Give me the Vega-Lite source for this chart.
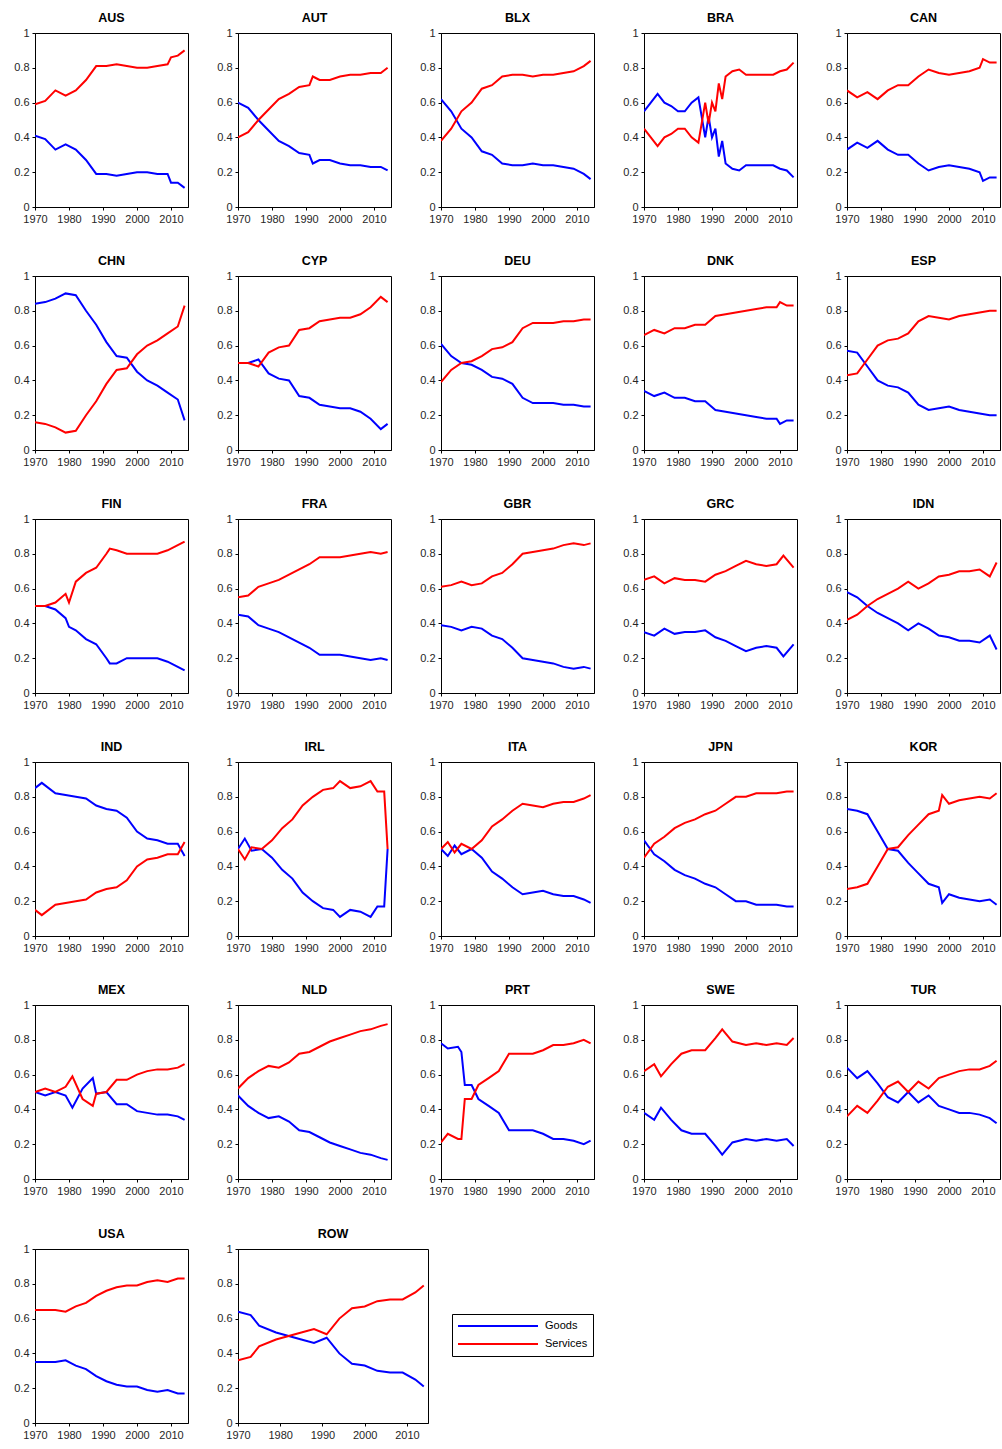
{
  "$schema": "https://vega.github.io/schema/vega-lite/v6.json",
  "background": "white",
  "padding": {"left": 13, "top": 11, "right": 0, "bottom": 4},
  "config": {
    "font": "Liberation Sans",
    "view": {"stroke": "black", "strokeWidth": 1},
    "axis": {"grid": false, "labelFontSize": 11, "labelColor": "#262626", "domainColor": "black", "tickColor": "black", "tickSize": 3, "title": null, "labelPadding": 3, "labelOverlap": false, "labelFlush": false},
    "header": {"title": null, "labelFontSize": 12.5, "labelFontWeight": "bold", "labelPadding": 3},
    "legend": {"title": null, "orient": "none", "legendX": 417, "legendY": 1281, "strokeColor": "black", "padding": 5, "symbolType": "stroke", "symbolSize": 6400, "symbolStrokeWidth": 2, "labelFontSize": 11, "labelOffset": 6, "rowPadding": 4, "clipHeight": 14}
  },
  "data": {"values": [
    {"c":"AUS","y":1970,"g":0.41,"s":0.59},{"c":"AUS","y":1973,"g":0.39,"s":0.61},{"c":"AUS","y":1976,"g":0.33,"s":0.67},{"c":"AUS","y":1979,"g":0.36,"s":0.64},{"c":"AUS","y":1982,"g":0.33,"s":0.67},{"c":"AUS","y":1985,"g":0.27,"s":0.73},{"c":"AUS","y":1988,"g":0.19,"s":0.81},{"c":"AUS","y":1991,"g":0.19,"s":0.81},{"c":"AUS","y":1994,"g":0.18,"s":0.82},{"c":"AUS","y":1997,"g":0.19,"s":0.81},{"c":"AUS","y":2000,"g":0.2,"s":0.8},{"c":"AUS","y":2003,"g":0.2,"s":0.8},{"c":"AUS","y":2006,"g":0.19,"s":0.81},{"c":"AUS","y":2009,"g":0.19,"s":0.82},{"c":"AUS","y":2010,"g":0.14,"s":0.86},{"c":"AUS","y":2012,"g":0.14,"s":0.87},{"c":"AUS","y":2014,"g":0.11,"s":0.9},
    {"c":"AUT","y":1970,"g":0.6,"s":0.4},{"c":"AUT","y":1973,"g":0.57,"s":0.43},{"c":"AUT","y":1976,"g":0.5,"s":0.5},{"c":"AUT","y":1979,"g":0.44,"s":0.56},{"c":"AUT","y":1982,"g":0.38,"s":0.62},{"c":"AUT","y":1985,"g":0.35,"s":0.65},{"c":"AUT","y":1988,"g":0.31,"s":0.69},{"c":"AUT","y":1991,"g":0.3,"s":0.7},{"c":"AUT","y":1992,"g":0.25,"s":0.75},{"c":"AUT","y":1994,"g":0.27,"s":0.73},{"c":"AUT","y":1997,"g":0.27,"s":0.73},{"c":"AUT","y":2000,"g":0.25,"s":0.75},{"c":"AUT","y":2003,"g":0.24,"s":0.76},{"c":"AUT","y":2006,"g":0.24,"s":0.76},{"c":"AUT","y":2009,"g":0.23,"s":0.77},{"c":"AUT","y":2012,"g":0.23,"s":0.77},{"c":"AUT","y":2014,"g":0.21,"s":0.8},
    {"c":"BLX","y":1970,"g":0.62,"s":0.38},{"c":"BLX","y":1973,"g":0.55,"s":0.45},{"c":"BLX","y":1976,"g":0.45,"s":0.55},{"c":"BLX","y":1979,"g":0.4,"s":0.6},{"c":"BLX","y":1982,"g":0.32,"s":0.68},{"c":"BLX","y":1985,"g":0.3,"s":0.7},{"c":"BLX","y":1988,"g":0.25,"s":0.75},{"c":"BLX","y":1991,"g":0.24,"s":0.76},{"c":"BLX","y":1994,"g":0.24,"s":0.76},{"c":"BLX","y":1997,"g":0.25,"s":0.75},{"c":"BLX","y":2000,"g":0.24,"s":0.76},{"c":"BLX","y":2003,"g":0.24,"s":0.76},{"c":"BLX","y":2006,"g":0.23,"s":0.77},{"c":"BLX","y":2009,"g":0.22,"s":0.78},{"c":"BLX","y":2012,"g":0.19,"s":0.81},{"c":"BLX","y":2014,"g":0.16,"s":0.84},
    {"c":"BRA","y":1970,"g":0.55,"s":0.45},{"c":"BRA","y":1972,"g":0.6,"s":0.4},{"c":"BRA","y":1974,"g":0.65,"s":0.35},{"c":"BRA","y":1976,"g":0.6,"s":0.4},{"c":"BRA","y":1978,"g":0.58,"s":0.42},{"c":"BRA","y":1980,"g":0.55,"s":0.45},{"c":"BRA","y":1982,"g":0.55,"s":0.45},{"c":"BRA","y":1984,"g":0.6,"s":0.4},{"c":"BRA","y":1986,"g":0.63,"s":0.37},{"c":"BRA","y":1988,"g":0.4,"s":0.6},{"c":"BRA","y":1989,"g":0.52,"s":0.48},{"c":"BRA","y":1990,"g":0.4,"s":0.6},{"c":"BRA","y":1991,"g":0.45,"s":0.55},{"c":"BRA","y":1992,"g":0.29,"s":0.71},{"c":"BRA","y":1993,"g":0.38,"s":0.62},{"c":"BRA","y":1994,"g":0.25,"s":0.75},{"c":"BRA","y":1996,"g":0.22,"s":0.78},{"c":"BRA","y":1998,"g":0.21,"s":0.79},{"c":"BRA","y":2000,"g":0.24,"s":0.76},{"c":"BRA","y":2003,"g":0.24,"s":0.76},{"c":"BRA","y":2006,"g":0.24,"s":0.76},{"c":"BRA","y":2008,"g":0.24,"s":0.76},{"c":"BRA","y":2010,"g":0.22,"s":0.78},{"c":"BRA","y":2012,"g":0.21,"s":0.79},{"c":"BRA","y":2014,"g":0.17,"s":0.83},
    {"c":"CAN","y":1970,"g":0.33,"s":0.67},{"c":"CAN","y":1973,"g":0.37,"s":0.63},{"c":"CAN","y":1976,"g":0.34,"s":0.66},{"c":"CAN","y":1979,"g":0.38,"s":0.62},{"c":"CAN","y":1982,"g":0.33,"s":0.67},{"c":"CAN","y":1985,"g":0.3,"s":0.7},{"c":"CAN","y":1988,"g":0.3,"s":0.7},{"c":"CAN","y":1991,"g":0.25,"s":0.75},{"c":"CAN","y":1994,"g":0.21,"s":0.79},{"c":"CAN","y":1997,"g":0.23,"s":0.77},{"c":"CAN","y":2000,"g":0.24,"s":0.76},{"c":"CAN","y":2003,"g":0.23,"s":0.77},{"c":"CAN","y":2006,"g":0.22,"s":0.78},{"c":"CAN","y":2009,"g":0.2,"s":0.8},{"c":"CAN","y":2010,"g":0.15,"s":0.85},{"c":"CAN","y":2012,"g":0.17,"s":0.83},{"c":"CAN","y":2014,"g":0.17,"s":0.83},
    {"c":"CHN","y":1970,"g":0.84,"s":0.16},{"c":"CHN","y":1973,"g":0.85,"s":0.15},{"c":"CHN","y":1976,"g":0.87,"s":0.13},{"c":"CHN","y":1979,"g":0.9,"s":0.1},{"c":"CHN","y":1982,"g":0.89,"s":0.11},{"c":"CHN","y":1985,"g":0.8,"s":0.2},{"c":"CHN","y":1988,"g":0.72,"s":0.28},{"c":"CHN","y":1991,"g":0.62,"s":0.38},{"c":"CHN","y":1994,"g":0.54,"s":0.46},{"c":"CHN","y":1997,"g":0.53,"s":0.47},{"c":"CHN","y":2000,"g":0.45,"s":0.55},{"c":"CHN","y":2003,"g":0.4,"s":0.6},{"c":"CHN","y":2006,"g":0.37,"s":0.63},{"c":"CHN","y":2009,"g":0.33,"s":0.67},{"c":"CHN","y":2012,"g":0.29,"s":0.71},{"c":"CHN","y":2014,"g":0.17,"s":0.83},
    {"c":"CYP","y":1970,"g":0.5,"s":0.5},{"c":"CYP","y":1973,"g":0.5,"s":0.5},{"c":"CYP","y":1976,"g":0.52,"s":0.48},{"c":"CYP","y":1979,"g":0.44,"s":0.56},{"c":"CYP","y":1982,"g":0.41,"s":0.59},{"c":"CYP","y":1985,"g":0.4,"s":0.6},{"c":"CYP","y":1988,"g":0.31,"s":0.69},{"c":"CYP","y":1991,"g":0.3,"s":0.7},{"c":"CYP","y":1994,"g":0.26,"s":0.74},{"c":"CYP","y":1997,"g":0.25,"s":0.75},{"c":"CYP","y":2000,"g":0.24,"s":0.76},{"c":"CYP","y":2003,"g":0.24,"s":0.76},{"c":"CYP","y":2006,"g":0.22,"s":0.78},{"c":"CYP","y":2009,"g":0.18,"s":0.82},{"c":"CYP","y":2012,"g":0.12,"s":0.88},{"c":"CYP","y":2014,"g":0.15,"s":0.85},
    {"c":"DEU","y":1970,"g":0.61,"s":0.39},{"c":"DEU","y":1973,"g":0.54,"s":0.46},{"c":"DEU","y":1976,"g":0.5,"s":0.5},{"c":"DEU","y":1979,"g":0.49,"s":0.51},{"c":"DEU","y":1982,"g":0.46,"s":0.54},{"c":"DEU","y":1985,"g":0.42,"s":0.58},{"c":"DEU","y":1988,"g":0.41,"s":0.59},{"c":"DEU","y":1991,"g":0.38,"s":0.62},{"c":"DEU","y":1994,"g":0.3,"s":0.7},{"c":"DEU","y":1997,"g":0.27,"s":0.73},{"c":"DEU","y":2000,"g":0.27,"s":0.73},{"c":"DEU","y":2003,"g":0.27,"s":0.73},{"c":"DEU","y":2006,"g":0.26,"s":0.74},{"c":"DEU","y":2009,"g":0.26,"s":0.74},{"c":"DEU","y":2012,"g":0.25,"s":0.75},{"c":"DEU","y":2014,"g":0.25,"s":0.75},
    {"c":"DNK","y":1970,"g":0.34,"s":0.66},{"c":"DNK","y":1973,"g":0.31,"s":0.69},{"c":"DNK","y":1976,"g":0.33,"s":0.67},{"c":"DNK","y":1979,"g":0.3,"s":0.7},{"c":"DNK","y":1982,"g":0.3,"s":0.7},{"c":"DNK","y":1985,"g":0.28,"s":0.72},{"c":"DNK","y":1988,"g":0.28,"s":0.72},{"c":"DNK","y":1991,"g":0.23,"s":0.77},{"c":"DNK","y":1994,"g":0.22,"s":0.78},{"c":"DNK","y":1997,"g":0.21,"s":0.79},{"c":"DNK","y":2000,"g":0.2,"s":0.8},{"c":"DNK","y":2003,"g":0.19,"s":0.81},{"c":"DNK","y":2006,"g":0.18,"s":0.82},{"c":"DNK","y":2009,"g":0.18,"s":0.82},{"c":"DNK","y":2010,"g":0.15,"s":0.85},{"c":"DNK","y":2012,"g":0.17,"s":0.83},{"c":"DNK","y":2014,"g":0.17,"s":0.83},
    {"c":"ESP","y":1970,"g":0.57,"s":0.43},{"c":"ESP","y":1973,"g":0.56,"s":0.44},{"c":"ESP","y":1976,"g":0.48,"s":0.52},{"c":"ESP","y":1979,"g":0.4,"s":0.6},{"c":"ESP","y":1982,"g":0.37,"s":0.63},{"c":"ESP","y":1985,"g":0.36,"s":0.64},{"c":"ESP","y":1988,"g":0.33,"s":0.67},{"c":"ESP","y":1991,"g":0.26,"s":0.74},{"c":"ESP","y":1994,"g":0.23,"s":0.77},{"c":"ESP","y":1997,"g":0.24,"s":0.76},{"c":"ESP","y":2000,"g":0.25,"s":0.75},{"c":"ESP","y":2003,"g":0.23,"s":0.77},{"c":"ESP","y":2006,"g":0.22,"s":0.78},{"c":"ESP","y":2009,"g":0.21,"s":0.79},{"c":"ESP","y":2012,"g":0.2,"s":0.8},{"c":"ESP","y":2014,"g":0.2,"s":0.8},
    {"c":"FIN","y":1970,"g":0.5,"s":0.5},{"c":"FIN","y":1973,"g":0.5,"s":0.5},{"c":"FIN","y":1976,"g":0.48,"s":0.52},{"c":"FIN","y":1979,"g":0.43,"s":0.57},{"c":"FIN","y":1980,"g":0.38,"s":0.52},{"c":"FIN","y":1982,"g":0.36,"s":0.64},{"c":"FIN","y":1985,"g":0.31,"s":0.69},{"c":"FIN","y":1988,"g":0.28,"s":0.72},{"c":"FIN","y":1991,"g":0.2,"s":0.8},{"c":"FIN","y":1992,"g":0.17,"s":0.83},{"c":"FIN","y":1994,"g":0.17,"s":0.82},{"c":"FIN","y":1997,"g":0.2,"s":0.8},{"c":"FIN","y":2000,"g":0.2,"s":0.8},{"c":"FIN","y":2003,"g":0.2,"s":0.8},{"c":"FIN","y":2006,"g":0.2,"s":0.8},{"c":"FIN","y":2009,"g":0.18,"s":0.82},{"c":"FIN","y":2012,"g":0.15,"s":0.85},{"c":"FIN","y":2014,"g":0.13,"s":0.87},
    {"c":"FRA","y":1970,"g":0.45,"s":0.55},{"c":"FRA","y":1973,"g":0.44,"s":0.56},{"c":"FRA","y":1976,"g":0.39,"s":0.61},{"c":"FRA","y":1979,"g":0.37,"s":0.63},{"c":"FRA","y":1982,"g":0.35,"s":0.65},{"c":"FRA","y":1985,"g":0.32,"s":0.68},{"c":"FRA","y":1988,"g":0.29,"s":0.71},{"c":"FRA","y":1991,"g":0.26,"s":0.74},{"c":"FRA","y":1994,"g":0.22,"s":0.78},{"c":"FRA","y":1997,"g":0.22,"s":0.78},{"c":"FRA","y":2000,"g":0.22,"s":0.78},{"c":"FRA","y":2003,"g":0.21,"s":0.79},{"c":"FRA","y":2006,"g":0.2,"s":0.8},{"c":"FRA","y":2009,"g":0.19,"s":0.81},{"c":"FRA","y":2012,"g":0.2,"s":0.8},{"c":"FRA","y":2014,"g":0.19,"s":0.81},
    {"c":"GBR","y":1970,"g":0.39,"s":0.61},{"c":"GBR","y":1973,"g":0.38,"s":0.62},{"c":"GBR","y":1976,"g":0.36,"s":0.64},{"c":"GBR","y":1979,"g":0.38,"s":0.62},{"c":"GBR","y":1982,"g":0.37,"s":0.63},{"c":"GBR","y":1985,"g":0.33,"s":0.67},{"c":"GBR","y":1988,"g":0.31,"s":0.69},{"c":"GBR","y":1991,"g":0.26,"s":0.74},{"c":"GBR","y":1994,"g":0.2,"s":0.8},{"c":"GBR","y":1997,"g":0.19,"s":0.81},{"c":"GBR","y":2000,"g":0.18,"s":0.82},{"c":"GBR","y":2003,"g":0.17,"s":0.83},{"c":"GBR","y":2006,"g":0.15,"s":0.85},{"c":"GBR","y":2009,"g":0.14,"s":0.86},{"c":"GBR","y":2012,"g":0.15,"s":0.85},{"c":"GBR","y":2014,"g":0.14,"s":0.86},
    {"c":"GRC","y":1970,"g":0.35,"s":0.65},{"c":"GRC","y":1973,"g":0.33,"s":0.67},{"c":"GRC","y":1976,"g":0.37,"s":0.63},{"c":"GRC","y":1979,"g":0.34,"s":0.66},{"c":"GRC","y":1982,"g":0.35,"s":0.65},{"c":"GRC","y":1985,"g":0.35,"s":0.65},{"c":"GRC","y":1988,"g":0.36,"s":0.64},{"c":"GRC","y":1991,"g":0.32,"s":0.68},{"c":"GRC","y":1994,"g":0.3,"s":0.7},{"c":"GRC","y":1997,"g":0.27,"s":0.73},{"c":"GRC","y":2000,"g":0.24,"s":0.76},{"c":"GRC","y":2003,"g":0.26,"s":0.74},{"c":"GRC","y":2006,"g":0.27,"s":0.73},{"c":"GRC","y":2009,"g":0.26,"s":0.74},{"c":"GRC","y":2011,"g":0.21,"s":0.79},{"c":"GRC","y":2014,"g":0.28,"s":0.72},
    {"c":"IDN","y":1970,"g":0.58,"s":0.42},{"c":"IDN","y":1973,"g":0.55,"s":0.45},{"c":"IDN","y":1976,"g":0.5,"s":0.5},{"c":"IDN","y":1979,"g":0.46,"s":0.54},{"c":"IDN","y":1982,"g":0.43,"s":0.57},{"c":"IDN","y":1985,"g":0.4,"s":0.6},{"c":"IDN","y":1988,"g":0.36,"s":0.64},{"c":"IDN","y":1991,"g":0.4,"s":0.6},{"c":"IDN","y":1994,"g":0.37,"s":0.63},{"c":"IDN","y":1997,"g":0.33,"s":0.67},{"c":"IDN","y":2000,"g":0.32,"s":0.68},{"c":"IDN","y":2003,"g":0.3,"s":0.7},{"c":"IDN","y":2006,"g":0.3,"s":0.7},{"c":"IDN","y":2009,"g":0.29,"s":0.71},{"c":"IDN","y":2012,"g":0.33,"s":0.67},{"c":"IDN","y":2014,"g":0.25,"s":0.75},
    {"c":"IND","y":1970,"g":0.85,"s":0.15},{"c":"IND","y":1972,"g":0.88,"s":0.12},{"c":"IND","y":1976,"g":0.82,"s":0.18},{"c":"IND","y":1979,"g":0.81,"s":0.19},{"c":"IND","y":1982,"g":0.8,"s":0.2},{"c":"IND","y":1985,"g":0.79,"s":0.21},{"c":"IND","y":1988,"g":0.75,"s":0.25},{"c":"IND","y":1991,"g":0.73,"s":0.27},{"c":"IND","y":1994,"g":0.72,"s":0.28},{"c":"IND","y":1997,"g":0.68,"s":0.32},{"c":"IND","y":2000,"g":0.6,"s":0.4},{"c":"IND","y":2003,"g":0.56,"s":0.44},{"c":"IND","y":2006,"g":0.55,"s":0.45},{"c":"IND","y":2009,"g":0.53,"s":0.47},{"c":"IND","y":2012,"g":0.53,"s":0.47},{"c":"IND","y":2014,"g":0.46,"s":0.54},
    {"c":"IRL","y":1970,"g":0.5,"s":0.5},{"c":"IRL","y":1972,"g":0.56,"s":0.44},{"c":"IRL","y":1974,"g":0.49,"s":0.51},{"c":"IRL","y":1977,"g":0.5,"s":0.5},{"c":"IRL","y":1980,"g":0.45,"s":0.55},{"c":"IRL","y":1983,"g":0.38,"s":0.62},{"c":"IRL","y":1986,"g":0.33,"s":0.67},{"c":"IRL","y":1989,"g":0.25,"s":0.75},{"c":"IRL","y":1992,"g":0.2,"s":0.8},{"c":"IRL","y":1995,"g":0.16,"s":0.84},{"c":"IRL","y":1998,"g":0.15,"s":0.85},{"c":"IRL","y":2000,"g":0.11,"s":0.89},{"c":"IRL","y":2003,"g":0.15,"s":0.85},{"c":"IRL","y":2006,"g":0.14,"s":0.86},{"c":"IRL","y":2009,"g":0.11,"s":0.89},{"c":"IRL","y":2011,"g":0.17,"s":0.83},{"c":"IRL","y":2013,"g":0.17,"s":0.83},{"c":"IRL","y":2014,"g":0.5,"s":0.5},
    {"c":"ITA","y":1970,"g":0.5,"s":0.5},{"c":"ITA","y":1972,"g":0.46,"s":0.54},{"c":"ITA","y":1974,"g":0.52,"s":0.48},{"c":"ITA","y":1976,"g":0.47,"s":0.53},{"c":"ITA","y":1979,"g":0.5,"s":0.5},{"c":"ITA","y":1982,"g":0.45,"s":0.55},{"c":"ITA","y":1985,"g":0.37,"s":0.63},{"c":"ITA","y":1988,"g":0.33,"s":0.67},{"c":"ITA","y":1991,"g":0.28,"s":0.72},{"c":"ITA","y":1994,"g":0.24,"s":0.76},{"c":"ITA","y":1997,"g":0.25,"s":0.75},{"c":"ITA","y":2000,"g":0.26,"s":0.74},{"c":"ITA","y":2003,"g":0.24,"s":0.76},{"c":"ITA","y":2006,"g":0.23,"s":0.77},{"c":"ITA","y":2009,"g":0.23,"s":0.77},{"c":"ITA","y":2012,"g":0.21,"s":0.79},{"c":"ITA","y":2014,"g":0.19,"s":0.81},
    {"c":"JPN","y":1970,"g":0.55,"s":0.45},{"c":"JPN","y":1973,"g":0.47,"s":0.53},{"c":"JPN","y":1976,"g":0.43,"s":0.57},{"c":"JPN","y":1979,"g":0.38,"s":0.62},{"c":"JPN","y":1982,"g":0.35,"s":0.65},{"c":"JPN","y":1985,"g":0.33,"s":0.67},{"c":"JPN","y":1988,"g":0.3,"s":0.7},{"c":"JPN","y":1991,"g":0.28,"s":0.72},{"c":"JPN","y":1994,"g":0.24,"s":0.76},{"c":"JPN","y":1997,"g":0.2,"s":0.8},{"c":"JPN","y":2000,"g":0.2,"s":0.8},{"c":"JPN","y":2003,"g":0.18,"s":0.82},{"c":"JPN","y":2006,"g":0.18,"s":0.82},{"c":"JPN","y":2009,"g":0.18,"s":0.82},{"c":"JPN","y":2012,"g":0.17,"s":0.83},{"c":"JPN","y":2014,"g":0.17,"s":0.83},
    {"c":"KOR","y":1970,"g":0.73,"s":0.27},{"c":"KOR","y":1973,"g":0.72,"s":0.28},{"c":"KOR","y":1976,"g":0.7,"s":0.3},{"c":"KOR","y":1979,"g":0.6,"s":0.4},{"c":"KOR","y":1982,"g":0.5,"s":0.5},{"c":"KOR","y":1985,"g":0.49,"s":0.51},{"c":"KOR","y":1988,"g":0.42,"s":0.58},{"c":"KOR","y":1991,"g":0.36,"s":0.64},{"c":"KOR","y":1994,"g":0.3,"s":0.7},{"c":"KOR","y":1997,"g":0.28,"s":0.72},{"c":"KOR","y":1998,"g":0.19,"s":0.81},{"c":"KOR","y":2000,"g":0.24,"s":0.76},{"c":"KOR","y":2003,"g":0.22,"s":0.78},{"c":"KOR","y":2006,"g":0.21,"s":0.79},{"c":"KOR","y":2009,"g":0.2,"s":0.8},{"c":"KOR","y":2012,"g":0.21,"s":0.79},{"c":"KOR","y":2014,"g":0.18,"s":0.82},
    {"c":"MEX","y":1970,"g":0.5,"s":0.5},{"c":"MEX","y":1973,"g":0.48,"s":0.52},{"c":"MEX","y":1976,"g":0.5,"s":0.5},{"c":"MEX","y":1979,"g":0.48,"s":0.53},{"c":"MEX","y":1981,"g":0.41,"s":0.59},{"c":"MEX","y":1984,"g":0.52,"s":0.46},{"c":"MEX","y":1987,"g":0.58,"s":0.42},{"c":"MEX","y":1988,"g":0.49,"s":0.49},{"c":"MEX","y":1991,"g":0.5,"s":0.5},{"c":"MEX","y":1994,"g":0.43,"s":0.57},{"c":"MEX","y":1997,"g":0.43,"s":0.57},{"c":"MEX","y":2000,"g":0.39,"s":0.6},{"c":"MEX","y":2003,"g":0.38,"s":0.62},{"c":"MEX","y":2006,"g":0.37,"s":0.63},{"c":"MEX","y":2009,"g":0.37,"s":0.63},{"c":"MEX","y":2012,"g":0.36,"s":0.64},{"c":"MEX","y":2014,"g":0.34,"s":0.66},
    {"c":"NLD","y":1970,"g":0.48,"s":0.52},{"c":"NLD","y":1973,"g":0.42,"s":0.58},{"c":"NLD","y":1976,"g":0.38,"s":0.62},{"c":"NLD","y":1979,"g":0.35,"s":0.65},{"c":"NLD","y":1982,"g":0.36,"s":0.64},{"c":"NLD","y":1985,"g":0.33,"s":0.67},{"c":"NLD","y":1988,"g":0.28,"s":0.72},{"c":"NLD","y":1991,"g":0.27,"s":0.73},{"c":"NLD","y":1994,"g":0.24,"s":0.76},{"c":"NLD","y":1997,"g":0.21,"s":0.79},{"c":"NLD","y":2000,"g":0.19,"s":0.81},{"c":"NLD","y":2003,"g":0.17,"s":0.83},{"c":"NLD","y":2006,"g":0.15,"s":0.85},{"c":"NLD","y":2009,"g":0.14,"s":0.86},{"c":"NLD","y":2012,"g":0.12,"s":0.88},{"c":"NLD","y":2014,"g":0.11,"s":0.89},
    {"c":"PRT","y":1970,"g":0.78,"s":0.21},{"c":"PRT","y":1972,"g":0.75,"s":0.26},{"c":"PRT","y":1975,"g":0.76,"s":0.23},{"c":"PRT","y":1976,"g":0.73,"s":0.23},{"c":"PRT","y":1977,"g":0.54,"s":0.46},{"c":"PRT","y":1979,"g":0.54,"s":0.46},{"c":"PRT","y":1981,"g":0.46,"s":0.54},{"c":"PRT","y":1984,"g":0.42,"s":0.58},{"c":"PRT","y":1987,"g":0.38,"s":0.62},{"c":"PRT","y":1990,"g":0.28,"s":0.72},{"c":"PRT","y":1994,"g":0.28,"s":0.72},{"c":"PRT","y":1997,"g":0.28,"s":0.72},{"c":"PRT","y":2000,"g":0.26,"s":0.74},{"c":"PRT","y":2003,"g":0.23,"s":0.77},{"c":"PRT","y":2006,"g":0.23,"s":0.77},{"c":"PRT","y":2009,"g":0.22,"s":0.78},{"c":"PRT","y":2012,"g":0.2,"s":0.8},{"c":"PRT","y":2014,"g":0.22,"s":0.78},
    {"c":"SWE","y":1970,"g":0.38,"s":0.62},{"c":"SWE","y":1973,"g":0.34,"s":0.66},{"c":"SWE","y":1975,"g":0.41,"s":0.59},{"c":"SWE","y":1978,"g":0.34,"s":0.66},{"c":"SWE","y":1981,"g":0.28,"s":0.72},{"c":"SWE","y":1984,"g":0.26,"s":0.74},{"c":"SWE","y":1988,"g":0.26,"s":0.74},{"c":"SWE","y":1991,"g":0.19,"s":0.81},{"c":"SWE","y":1993,"g":0.14,"s":0.86},{"c":"SWE","y":1996,"g":0.21,"s":0.79},{"c":"SWE","y":2000,"g":0.23,"s":0.77},{"c":"SWE","y":2003,"g":0.22,"s":0.78},{"c":"SWE","y":2006,"g":0.23,"s":0.77},{"c":"SWE","y":2009,"g":0.22,"s":0.78},{"c":"SWE","y":2012,"g":0.23,"s":0.77},{"c":"SWE","y":2014,"g":0.19,"s":0.81},
    {"c":"TUR","y":1970,"g":0.64,"s":0.36},{"c":"TUR","y":1973,"g":0.58,"s":0.42},{"c":"TUR","y":1976,"g":0.62,"s":0.38},{"c":"TUR","y":1979,"g":0.55,"s":0.45},{"c":"TUR","y":1982,"g":0.47,"s":0.53},{"c":"TUR","y":1985,"g":0.44,"s":0.56},{"c":"TUR","y":1988,"g":0.5,"s":0.5},{"c":"TUR","y":1991,"g":0.44,"s":0.56},{"c":"TUR","y":1994,"g":0.48,"s":0.52},{"c":"TUR","y":1997,"g":0.42,"s":0.58},{"c":"TUR","y":2000,"g":0.4,"s":0.6},{"c":"TUR","y":2003,"g":0.38,"s":0.62},{"c":"TUR","y":2006,"g":0.38,"s":0.63},{"c":"TUR","y":2009,"g":0.37,"s":0.63},{"c":"TUR","y":2012,"g":0.35,"s":0.65},{"c":"TUR","y":2014,"g":0.32,"s":0.68},
    {"c":"USA","y":1970,"g":0.35,"s":0.65},{"c":"USA","y":1973,"g":0.35,"s":0.65},{"c":"USA","y":1976,"g":0.35,"s":0.65},{"c":"USA","y":1979,"g":0.36,"s":0.64},{"c":"USA","y":1982,"g":0.33,"s":0.67},{"c":"USA","y":1985,"g":0.31,"s":0.69},{"c":"USA","y":1988,"g":0.27,"s":0.73},{"c":"USA","y":1991,"g":0.24,"s":0.76},{"c":"USA","y":1994,"g":0.22,"s":0.78},{"c":"USA","y":1997,"g":0.21,"s":0.79},{"c":"USA","y":2000,"g":0.21,"s":0.79},{"c":"USA","y":2003,"g":0.19,"s":0.81},{"c":"USA","y":2006,"g":0.18,"s":0.82},{"c":"USA","y":2009,"g":0.19,"s":0.81},{"c":"USA","y":2012,"g":0.17,"s":0.83},{"c":"USA","y":2014,"g":0.17,"s":0.83},
    {"c":"ROW","y":1970,"g":0.64,"s":0.36},{"c":"ROW","y":1973,"g":0.62,"s":0.38},{"c":"ROW","y":1975,"g":0.56,"s":0.44},{"c":"ROW","y":1979,"g":0.52,"s":0.48},{"c":"ROW","y":1982,"g":0.5,"s":0.5},{"c":"ROW","y":1985,"g":0.48,"s":0.52},{"c":"ROW","y":1988,"g":0.46,"s":0.54},{"c":"ROW","y":1991,"g":0.49,"s":0.51},{"c":"ROW","y":1994,"g":0.4,"s":0.6},{"c":"ROW","y":1997,"g":0.34,"s":0.66},{"c":"ROW","y":2000,"g":0.33,"s":0.67},{"c":"ROW","y":2003,"g":0.3,"s":0.7},{"c":"ROW","y":2006,"g":0.29,"s":0.71},{"c":"ROW","y":2009,"g":0.29,"s":0.71},{"c":"ROW","y":2012,"g":0.25,"s":0.75},{"c":"ROW","y":2014,"g":0.21,"s":0.79}
  ]},
  "transform": [
    {"fold": ["g", "s"], "as": ["k", "v"]},
    {"lookup": "k", "from": {"data": {"values": [{"k": "g", "series": "Goods"}, {"k": "s", "series": "Services"}]}, "key": "k", "fields": ["series"]}}
  ],
  "spacing": 30,
  "vconcat": [
    {
      "transform": [{"filter": "datum.c !== 'USA' && datum.c !== 'ROW'"}],
      "facet": {"field": "c", "type": "nominal", "header": {"title": null},
        "sort": ["AUS","AUT","BLX","BRA","CAN","CHN","CYP","DEU","DNK","ESP","FIN","FRA","GBR","GRC","IDN","IND","IRL","ITA","JPN","KOR","MEX","NLD","PRT","SWE","TUR"]},
      "columns": 5,
      "spacing": {"column": 27, "row": 29},
      "resolve": {"axis": {"x": "independent", "y": "independent"}},
      "spec": {
        "width": 153, "height": 174,
        "mark": {"type": "line", "strokeWidth": 2, "clip": true},
        "encoding": {
          "x": {"field": "y", "type": "quantitative", "scale": {"domain": [1970, 2015]}, "axis": {"values": [1970, 1980, 1990, 2000, 2010], "format": "d"}},
          "y": {"field": "v", "type": "quantitative", "scale": {"domain": [0, 1]}, "axis": {"values": [0, 0.2, 0.4, 0.6, 0.8, 1], "labelExpr": "datum.value + ''"}},
          "color": {"field": "series", "type": "nominal", "scale": {"domain": ["Goods", "Services"], "range": ["#0000ff", "#ff0000"]}}
        }
      }
    },
    {
      "spacing": 27,
      "hconcat": [
        {
          "title": {"text": "USA", "fontSize": 12.5, "fontWeight": "bold", "offset": 3},
          "transform": [{"filter": "datum.c === 'USA'"}],
          "width": 153, "height": 174,
          "mark": {"type": "line", "strokeWidth": 2, "clip": true},
          "encoding": {
            "x": {"field": "y", "type": "quantitative", "scale": {"domain": [1970, 2015]}, "axis": {"values": [1970, 1980, 1990, 2000, 2010], "format": "d"}},
            "y": {"field": "v", "type": "quantitative", "scale": {"domain": [0, 1]}, "axis": {"values": [0, 0.2, 0.4, 0.6, 0.8, 1], "labelExpr": "datum.value + ''"}},
            "color": {"field": "series", "type": "nominal", "scale": {"domain": ["Goods", "Services"], "range": ["#0000ff", "#ff0000"]}}
          }
        },
        {
          "title": {"text": "ROW", "fontSize": 12.5, "fontWeight": "bold", "offset": 3},
          "transform": [{"filter": "datum.c === 'ROW'"}],
          "width": 190, "height": 174,
          "mark": {"type": "line", "strokeWidth": 2, "clip": true},
          "encoding": {
            "x": {"field": "y", "type": "quantitative", "scale": {"domain": [1970, 2015]}, "axis": {"values": [1970, 1980, 1990, 2000, 2010], "format": "d"}},
            "y": {"field": "v", "type": "quantitative", "scale": {"domain": [0, 1]}, "axis": {"values": [0, 0.2, 0.4, 0.6, 0.8, 1], "labelExpr": "datum.value + ''"}},
            "color": {"field": "series", "type": "nominal", "scale": {"domain": ["Goods", "Services"], "range": ["#0000ff", "#ff0000"]}}
          }
        }
      ]
    }
  ]
}
